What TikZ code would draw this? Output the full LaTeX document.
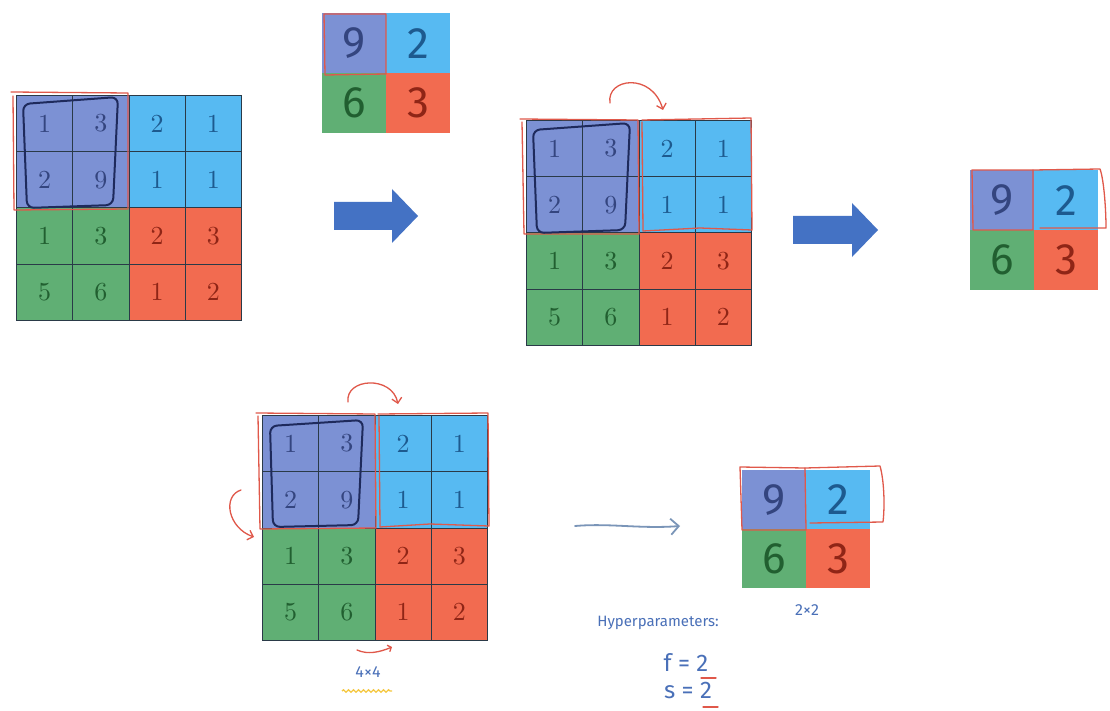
\documentclass[tikz,border=0pt]{standalone}
\usepackage{fontspec}
\newfontfamily\hand{Fira Sans}
\newfontfamily\gridf{lmroman10-regular.otf}
\usetikzlibrary{arrows.meta,decorations.pathmorphing}
\definecolor{cP}{HTML}{7C91D4}
\definecolor{cB}{HTML}{57BAF2}
\definecolor{cG}{HTML}{60AF74}
\definecolor{cR}{HTML}{F26B50}
\definecolor{tP}{HTML}{34457F}
\definecolor{tB}{HTML}{1D5A8F}
\definecolor{tG}{HTML}{215F30}
\definecolor{tR}{HTML}{8F2516}
\definecolor{gridline}{HTML}{2A3A48}
\definecolor{redink}{HTML}{E0584A}
\definecolor{darkink}{HTML}{1E2A5C}
\definecolor{blueink}{HTML}{4A70B8}
\definecolor{arrowgray}{HTML}{7A95B8}
\definecolor{blockblue}{HTML}{4472C4}
\definecolor{yellowink}{HTML}{F5C842}
\tikzset{
  cellbox/.style={draw=gridline, line width=0.8pt, inner sep=0pt, anchor=north west,
    font=\gridf\fontsize{26}{30}\selectfont},
  smallcell/.style={draw=none, inner sep=0pt, anchor=north west,
    font=\hand\fontsize{44}{50}\selectfont},
  redpen/.style={draw=redink, line width=1.3pt, line cap=round, line join=round},
  darkpen/.style={draw=darkink, line width=2pt, rounded corners=7pt, line join=round},
  handlabel/.style={text=blueink, inner sep=0pt, font=\hand\fontsize{16}{18}\selectfont},
  barb/.style={-{Straight Barb[length=5pt,width=10pt]}},
  blockarrow/.style={fill=blockblue, draw=none},
}
\newcommand{\BigGrid}[4]{%
  \foreach \r/\c/\v/\q in {0/0/1/P,0/1/3/P,0/2/2/B,0/3/1/B,1/0/2/P,1/1/9/P,1/2/1/B,1/3/1/B,
    2/0/1/G,2/1/3/G,2/2/2/R,2/3/3/R,3/0/5/G,3/1/6/G,3/2/1/R,3/3/2/R}{%
    \node[cellbox, fill=c\q, text=t\q, minimum width=#4pt, minimum height=#4pt]
      (#1-\r\c) at ({#2+\c*#4},{#3+\r*#4}) {\v};
  }}
\newcommand{\SmallGrid}[5]{%
  \foreach \r/\c/\v/\q in {0/0/9/P,0/1/2/B,1/0/6/G,1/1/3/R}{%
    \node[smallcell, fill=c\q, text=t\q, minimum width=#4pt, minimum height=#5pt]
      (#1-\r\c) at ({#2+\c*#4},{#3+\r*#5}) {\v};
  }}
\begin{document}
\begin{tikzpicture}[x=1pt,y=-1pt]
\fill[white] (0,0) rectangle (1110,711);
\useasboundingbox (0,0) rectangle (1110,711);

% ---------- grids ----------
\BigGrid{ga}{16}{95}{56.25}
\BigGrid{gb}{526}{120}{56.25}
\BigGrid{gc}{262}{415}{56.25}
\SmallGrid{sa}{322}{13}{64}{60}
\SmallGrid{sb}{970}{170}{64}{60}
\SmallGrid{sc}{742}{470}{64}{59}

% ---------- block arrows ----------
\fill[blockblue] (334,202) -- (392,202) -- (392,189) -- (418,216) -- (392,243) -- (392,230) -- (334,230) -- cycle;
\fill[blockblue] (793,216) -- (852,216) -- (852,203) -- (878,230) -- (852,257) -- (852,244) -- (793,244) -- cycle;

% ---------- grid A annotations ----------
\draw[redpen] (11,92) -- (128,93) -- (128,209) -- (14,210) -- (13,96);
\draw[darkpen] (23,104) -- (118,97) -- (113,205) -- (27,208) -- cycle;

% ---------- grid B annotations ----------
\draw[redpen] (520,119) -- (638,120) -- (639,234) -- (524,234) -- (522,122);
\draw[redpen] (642,120) -- (751,118) -- (752,230) -- (700,228) -- (643,231) -- (642,122);
\draw[darkpen] (533,130) -- (630,123) -- (625,230) -- (537,233) -- cycle;
\draw[redpen, barb] (610,103) .. controls (606,78) and (652,72) .. (663,110);

% ---------- grid C annotations ----------
\draw[redpen] (256,413) -- (375,414) -- (376,528) -- (260,529) -- (258,416);
\draw[redpen] (378,414) -- (488,413) -- (489,526) -- (430,524) -- (380,527) -- (379,416);
\draw[darkpen] (270,426) -- (363,420) -- (358,525) -- (273,527) -- cycle;
\draw[redpen, barb] (348,402) .. controls (345,378) and (392,375) .. (398,404);
\draw[redpen, barb] (241,490) .. controls (222,496) and (228,528) .. (254,537);
\draw[redpen, -{Straight Barb[length=3pt,width=7pt]}] (357,650) .. controls (368,655) and (380,652) .. (392,647);
\draw[yellowink, line width=1.3pt, decorate, decoration={snake, amplitude=1.2pt, segment length=5pt}] (342,691) -- (392,691);

% ---------- small grid annotations ----------
\draw[redpen] (324,14) -- (386,14) -- (386,74) -- (325,75) -- cycle;
\draw[redpen] (972,170) -- (1033,170) -- (1033,230) -- (973,230) -- cycle;
\draw[redpen] (1033,170) -- (1100,169) .. controls (1104,180) and (1106,210) .. (1106,228) -- (1040,228);
\draw[redpen] (740,467) -- (805,468) -- (806,530) -- (742,530) -- cycle;
\draw[redpen] (805,468) -- (880,466) .. controls (884,480) and (885,505) .. (883,522) -- (810,523);

% ---------- bottom arrow ----------
\coordinate (ba1) at (575,526);
\coordinate (ba2) at (680,526);
\draw[arrowgray, line width=1.8pt, line cap=round, -{Straight Barb[length=8pt,width=16pt]}]
  (ba1) .. controls (610,523) and (640,529) .. (ba2);

% ---------- labels ----------
\node[handlabel] (lab44) at (368,672) {4×4};
\node[handlabel] (lab22) at (807,610) {2×2};
\node[handlabel, font=\hand\fontsize{15}{17}\selectfont] (hyp) at (658,623) {Hyperparameters:};
\node[handlabel, font=\hand\fontsize{24}{26}\selectfont] (feq) at (686,662) {f = 2};
\node[handlabel, font=\hand\fontsize{24}{26}\selectfont] (seq) at (688,690) {s = 2};
\draw[redpen] (701,678) -- (716,678);
\draw[redpen] (703,707) -- (718,707);
\end{tikzpicture}
\end{document}
